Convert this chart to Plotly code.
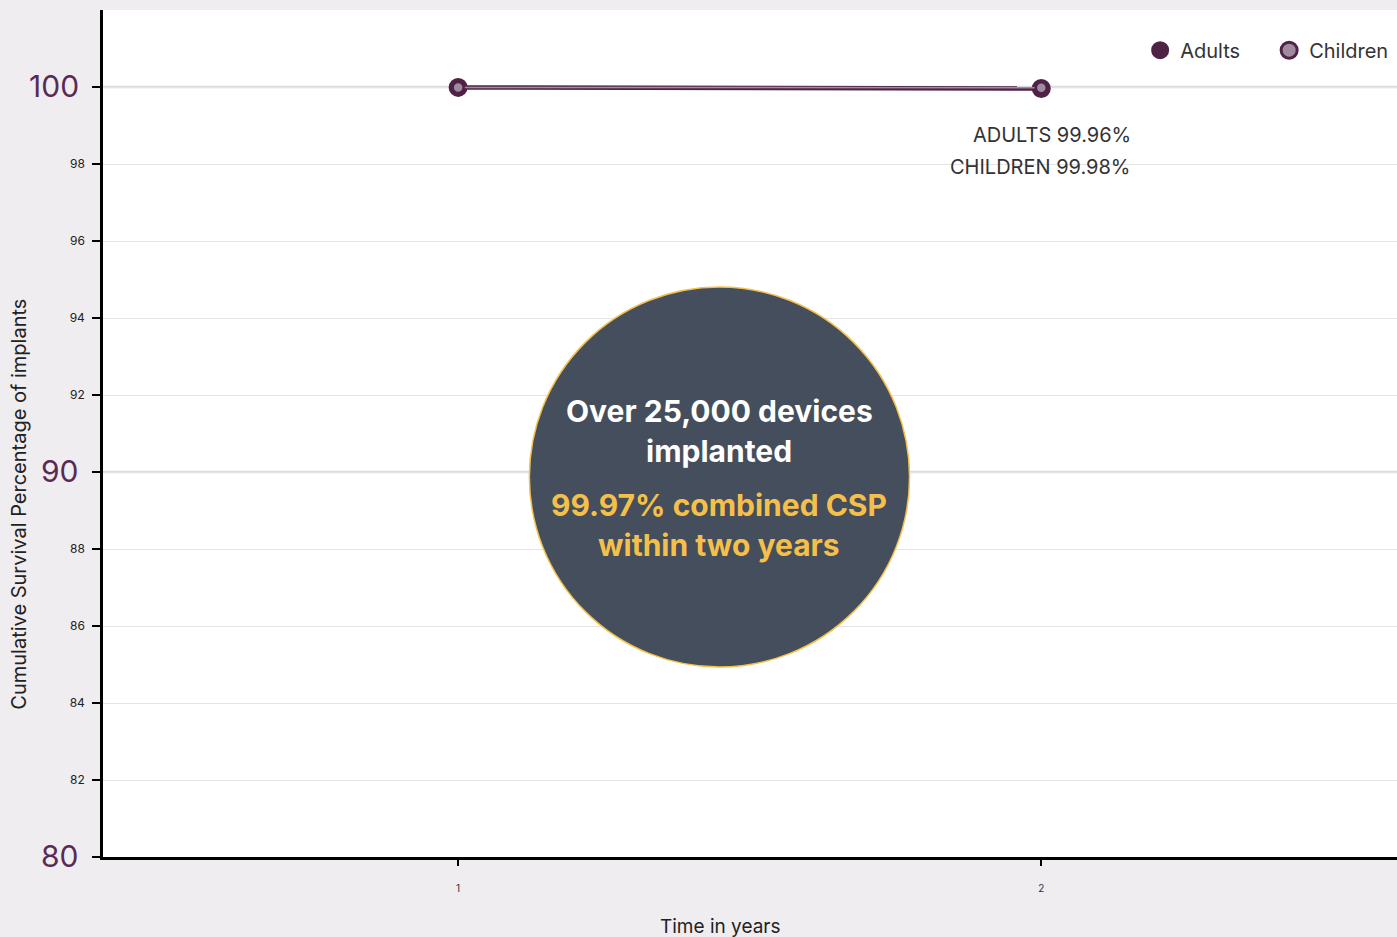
import plotly.graph_objects as go

years = [1, 2]
adults = [99.99, 99.96]
children = [99.99, 99.98]
ytick_vals = [80, 82, 84, 86, 88, 90, 92, 94, 96, 98, 100]
ymajor_vals = [80, 90, 100]
xtick_vals = [1, 2]

DARK = "#4f2346"
LIGHT = "#a08aa0"
ytick_text = ["" if v in ymajor_vals else str(v) for v in ytick_vals]

fig = go.Figure()
fig.add_trace(go.Scatter(x=years, y=adults, mode="lines+markers", name="Adults",
                         line=dict(color=DARK, width=4.5),
                         marker=dict(size=17, color=DARK, line=dict(color=DARK, width=2)),
                         showlegend=False))
fig.add_trace(go.Scatter(x=years, y=children, mode="lines+markers", name="Children",
                         line=dict(color=LIGHT, width=1.5),
                         marker=dict(size=11, color=LIGHT, line=dict(color=DARK, width=2.5)),
                         showlegend=False))
# legend-only entries
fig.add_trace(go.Scatter(x=[None], y=[None], mode="markers", name="Adults",
                         marker=dict(size=22, color=DARK, line=dict(color=DARK, width=2))))
fig.add_trace(go.Scatter(x=[None], y=[None], mode="markers", name="Children",
                         marker=dict(size=22, color=LIGHT, line=dict(color=DARK, width=3))))

fig.update_layout(
    width=1397, height=937,
    margin=dict(l=103, r=0, t=10, b=80, autoexpand=False),
    paper_bgcolor="#efedf0", plot_bgcolor="white",
    font=dict(family="Inter, Lato, sans-serif", color="#222"),
    legend=dict(orientation="h", x=0.8015, xanchor="left", y=0.9756, yanchor="top",
                bgcolor="rgba(0,0,0,0)", font=dict(size=20, color="#333"),
                itemwidth=30, entrywidth=84, entrywidthmode="pixels"),
    xaxis=dict(range=[0.391, 2.61], tickvals=xtick_vals, ticktext=[str(v) for v in xtick_vals],
               showgrid=False, zeroline=False, showline=True, linecolor="black", linewidth=2.5,
               ticks="outside", ticklen=6, tickwidth=2, tickcolor="black",
               tickfont=dict(size=10, color="#333"), ticklabelstandoff=14),
    yaxis=dict(range=[80, 102], tickvals=ytick_vals, ticktext=ytick_text,
               showgrid=True, gridcolor="#e4e4e4", gridwidth=1, zeroline=False,
               showline=True, linecolor="black", linewidth=2.5,
               ticks="outside", ticklen=8, tickwidth=2, tickcolor="black",
               tickfont=dict(size=12, color="#222"), ticklabelstandoff=5),
)

# thicker major gridlines and big major tick labels
for v in ymajor_vals:
    if v > 80:
        fig.add_shape(type="line", xref="paper", yref="y", x0=0, x1=1, y0=v, y1=v,
                      line=dict(color="#dcdcdc", width=2.5), layer="below")
    fig.add_annotation(xref="paper", yref="y", x=0, y=v, xanchor="right", yanchor="middle",
                       xshift=-22, yshift=1, showarrow=False, text=str(v),
                       font=dict(size=30, color="#5a2a55"))

# callout circle
fig.add_shape(type="circle", xref="paper", yref="paper",
              x0=0.3295, x1=0.6233, y0=0.2243, y1=0.6730,
              fillcolor="#454e5c", line=dict(color="#f5c04a", width=1.5), layer="above")

circle_lines = [
    ("Over 25,000 devices", "white", 411),
    ("implanted", "white", 451),
    ("99.97% combined CSP", "#f5c04a", 505),
    ("within two years", "#f5c04a", 545),
]
for txt, col, py in circle_lines:
    fig.add_annotation(xref="paper", yref="paper", x=0.4763, y=1 - (py - 10) / 847,
                       showarrow=False, text="<b>" + txt + "</b>",
                       font=dict(size=30, color=col, family="Inter, Lato, sans-serif"),
                       align="center", yanchor="middle")

# value labels
fig.add_annotation(x=2.157, y=99.96, xref="x", yref="y", showarrow=False, xanchor="right",
                   yshift=-46, text="ADULTS 99.96%", font=dict(size=20, color="#333"))
fig.add_annotation(x=2.157, y=99.98, xref="x", yref="y", showarrow=False, xanchor="right",
                   yshift=-79, text="CHILDREN 99.98%", font=dict(size=20, color="#333"))

# axis titles
fig.add_annotation(xref="paper", yref="paper", x=-0.0649, y=0.416, showarrow=False,
                   text="Cumulative Survival Percentage of implants", textangle=-90,
                   xanchor="center", yanchor="middle", font=dict(size=20, color="#222"))
fig.add_annotation(xref="paper", yref="paper", x=0.477, y=-0.082, showarrow=False,
                   text="Time in years", yanchor="middle",
                   font=dict(size=19, color="#222"))

fig.write_html("out.html", config={"displayModeBar": False},
               post_script="document.body.style.margin='0';")
